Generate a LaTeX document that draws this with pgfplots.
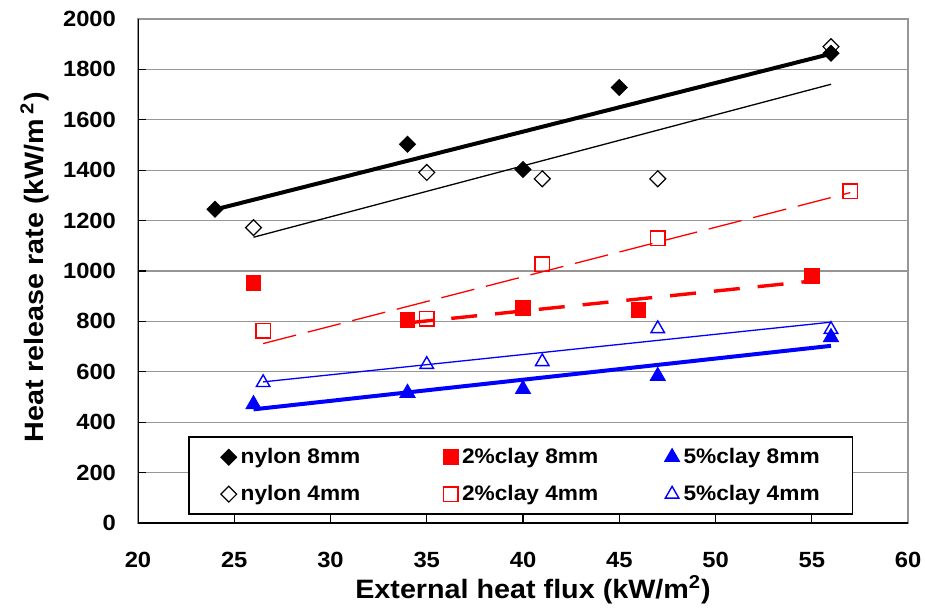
\documentclass[border=0pt]{standalone}
\usepackage{fontspec}
\setmainfont{Liberation Sans}[FakeStretch=1.08]
\usepackage{pgfplots}
\pgfplotsset{compat=1.18}
\definecolor{gridgray}{RGB}{150,150,150}
\pgfplotsset{
  mylegimg/.style={legend image code/.code={%
      \path[draw=none, fill=none] (-18pt,-9pt) rectangle (3pt,9pt);
      \draw[##1] plot coordinates {(0pt,0pt)};}},
}
\begin{document}
\begin{tikzpicture}
\begin{axis}[
  scale only axis,
  width=385pt, height=252pt,
  xmin=20, xmax=60, ymin=0, ymax=2000,
  xtick={20,25,...,60}, ytick={0,200,...,2000},
  ymajorgrids, grid style={gridgray, line width=0.65pt},
  axis line style={gridgray, line width=0.65pt},
  tick style={black, line width=0.65pt},
  tick align=inside, tick pos=left,
  major tick length=4pt,
  ticklabel style={font=\bfseries\fontsize{11}{13}\selectfont},
  /pgf/number format/assume math mode=true,
  /pgf/number format/1000 sep={},
  xticklabel style={yshift=-11pt},
  yticklabel style={xshift=-7.5pt},
  xlabel={External heat flux (kW/m\textsuperscript{2})},
  ylabel={Heat release rate (kW/m\,\textsuperscript{2})},
  label style={font=\bfseries\fontsize{13.3}{15}\selectfont},
  xlabel style={at={(rel axis cs:0.513,-0.133)}, anchor=center},
  ylabel style={at={(rel axis cs:-0.134,0.507)}, anchor=center},
  legend columns=3,
  legend cell align=left,
  legend style={at={(rel axis cs:0.0649,0.0159)}, anchor=south west,
    draw=black, line width=0.8pt, fill=white, inner xsep=2pt, inner ysep=1pt,
    font=\bfseries\fontsize{10.5}{12}\selectfont, row sep=0.5pt,
    /tikz/every even column/.append style={column sep=4.5pt}},
]
% trend lines
\addplot[forget plot, black, line width=2pt] coordinates {(24,1244) (56,1862)};
\addplot[forget plot, black, line width=0.65pt] coordinates {(26,1134) (56,1741)};
\addplot[forget plot, red, line width=0.65pt, dash pattern=on 17pt off 6pt] coordinates {(26.5,712) (57,1311)};
\addplot[forget plot, red, line width=1.7pt, dash pattern=on 13pt off 9pt] coordinates {(34,794) (55,960)};
\addplot[forget plot, blue, line width=0.65pt] coordinates {(26.5,560) (56,797)};
\addplot[forget plot, blue, line width=2pt] coordinates {(26,451) (56,703)};
% data
\addplot[only marks, black, mark=square*, mark size=2.8pt, mark options={rotate=45, solid, line width=0.5pt}, mylegimg]
  coordinates {(24,1245) (34,1503) (40,1403) (45,1728) (56,1864)};
\addlegendentry{\makebox[80.5pt][l]{nylon 8mm}}
\addplot[only marks, red, mark=square*, mark size=3.7pt, mark options={solid, line width=0.5pt}, mylegimg]
  coordinates {(26,951) (34,804) (40,853) (46,846) (55,979)};
\addlegendentry{\makebox[80.5pt][l]{2\%clay 8mm}}
\addplot[only marks, blue, mark=triangle*, mark size=4.3pt, mark options={solid, line width=0.5pt}, mylegimg]
  coordinates {(26,471) (34,516) (40,531) (47,583) (56,737)};
\addlegendentry{\makebox[80.5pt][l]{5\%clay 8mm}}
\addplot[only marks, black, mark=square, mark size=2.8pt, mark options={rotate=45, solid, fill=white, line width=0.6pt}, mylegimg]
  coordinates {(26,1172) (35,1391) (41,1366) (47,1366) (56,1890)};
\addlegendentry{\makebox[80.5pt][l]{nylon 4mm}}
\addplot[only marks, red, mark=square, mark size=3.6pt, mark options={solid, fill=white, line width=0.7pt}, mylegimg]
  coordinates {(26.5,762) (35,811) (41,1027) (47,1130) (57,1316)};
\addlegendentry{\makebox[80.5pt][l]{2\%clay 4mm}}
\addplot[only marks, blue, mark=triangle, mark size=3.9pt, mark options={solid, fill=white, line width=0.7pt}, mylegimg]
  coordinates {(26.5,557) (35,629) (41,640) (47,771) (56,768)};
\addlegendentry{\makebox[80.5pt][l]{5\%clay 4mm}}
% frame: black left and bottom axis lines
\draw[black, line width=0.7pt] (rel axis cs:0,1) -- (rel axis cs:0,0) -- (rel axis cs:1,0);
\end{axis}
\pgfresetboundingbox
\path (current axis.south west) ++(-69pt,-43.5pt) rectangle ++(462.5pt,305pt);
\end{tikzpicture}
\end{document}
